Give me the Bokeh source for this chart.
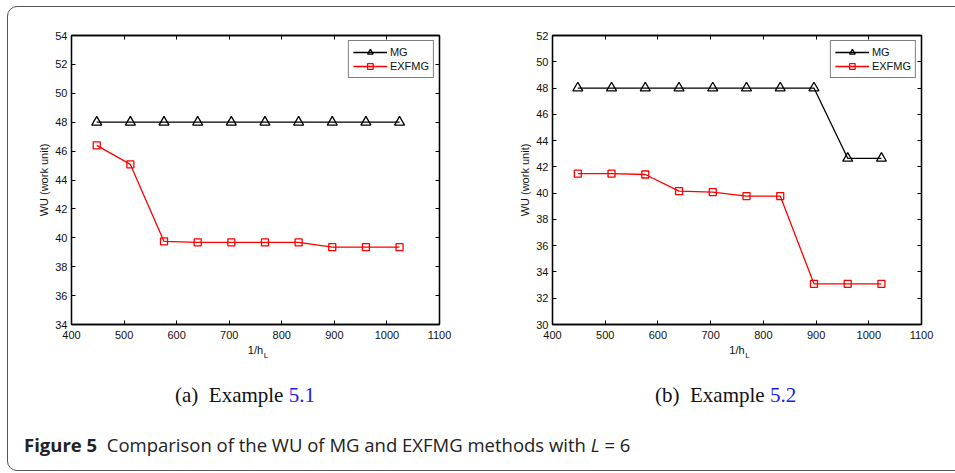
from bokeh.plotting import figure
from bokeh.models import (Range1d, FixedTicker, LinearAxis, Legend, LegendItem, Div)
from bokeh.layouts import row, column
from bokeh.embed import file_html
from bokeh.resources import INLINE

# ---------------- data ----------------
inv_h = [448, 512, 576, 640, 704, 768, 832, 896, 960, 1024]

mg_a = [48, 48, 48, 48, 48, 48, 48, 48, 48, 48]
exfmg_a = [46.4, 45.08, 39.75, 39.68, 39.68, 39.68, 39.68, 39.35, 39.35, 39.35]

mg_b = [48, 48, 48, 48, 48, 48, 48, 48, 42.65, 42.65]
exfmg_b = [41.48, 41.48, 41.42, 40.15, 40.08, 39.78, 39.78, 33.1, 33.1, 33.1]

x_ticks = [400, 500, 600, 700, 800, 900, 1000, 1100]
y_ticks_a = [34, 36, 38, 40, 42, 44, 46, 48, 50, 52, 54]
y_ticks_b = [30, 32, 34, 36, 38, 40, 42, 44, 46, 48, 50, 52]

series_names = ["MG", "EXFMG"]
x_label_main = "1/h"
x_label_sub = "L"
x_label_sub_at = 770
y_label = "WU (work unit)"
caption_a = ("(a)", "Example", "5.1")
caption_b = ("(b)", "Example", "5.2")
fig_caption = ("Figure 5", "Comparison of the WU of MG and EXFMG methods with", "L", "= 6")

TICK_FONT = "Liberation Sans"
FIG_H = 370


def make_panel(width, min_left, min_right, mg, ex, yticks):
    p = figure(width=width, height=FIG_H, output_backend="svg", toolbar_location=None,
               x_range=Range1d(400, 1100), y_range=Range1d(yticks[0], yticks[-1]),
               min_border_left=min_left, min_border_right=min_right,
               min_border_top=35, min_border_bottom=FIG_H - 324,
               x_axis_location=None, y_axis_location=None)
    p.grid.visible = False
    p.outline_line_color = "black"
    p.outline_line_width = 1.3
    p.background_fill_color = "white"
    p.border_fill_color = "white"

    for side in ["below", "left", "above", "right"]:
        ticks = x_ticks if side in ("below", "above") else yticks
        ax = LinearAxis()
        ax.ticker = FixedTicker(ticks=ticks)
        ax.major_tick_in = 4
        ax.major_tick_out = 0
        ax.minor_tick_line_color = None
        ax.axis_line_color = "black"
        ax.axis_line_width = 1.3
        ax.major_tick_line_color = "black"
        ax.major_tick_line_width = 1
        ax.major_label_text_font = TICK_FONT
        ax.major_label_text_font_size = "11px"
        ax.major_label_text_color = "#111111"
        ax.axis_label_text_font = TICK_FONT
        ax.axis_label_text_font_size = "11px"
        ax.axis_label_text_font_style = "normal"
        ax.axis_label_text_color = "#111111"
        if side in ("above", "right"):
            ax.major_label_overrides = {t: "" for t in ticks}
            ax.major_label_standoff = 0
        elif side == "below":
            ax.major_label_standoff = 6
            ax.axis_label = x_label_main
            ax.axis_label_standoff = 2
        else:
            ax.major_label_standoff = 4
            ax.axis_label = y_label
            ax.axis_label_standoff = 2
        p.add_layout(ax, side)

    # subscript "L" of the x-axis label, as a second (tick-less) axis below
    sub = LinearAxis(ticker=FixedTicker(ticks=[x_label_sub_at]),
                     major_label_overrides={x_label_sub_at: x_label_sub})
    sub.axis_line_color = None
    sub.major_tick_line_color = None
    sub.minor_tick_line_color = None
    sub.major_tick_in = 0
    sub.major_tick_out = 0
    sub.major_label_standoff = -8
    sub.major_label_text_font = TICK_FONT
    sub.major_label_text_font_size = "8px"
    sub.major_label_text_color = "#111111"
    p.add_layout(sub, "below")

    l1 = p.line(inv_h, mg, line_color="black", line_width=1.3)
    s1 = p.scatter(inv_h, mg, marker="triangle", size=10, line_color="black",
                   line_width=1.3, fill_alpha=0)
    l2 = p.line(inv_h, ex, line_color="#ff0000", line_width=1.3)
    s2 = p.scatter(inv_h, ex, marker="square", size=7, line_color="#ff0000",
                   line_width=1.3, fill_alpha=0)

    legend = Legend(items=[LegendItem(label=series_names[0], renderers=[l1, s1]),
                           LegendItem(label=series_names[1], renderers=[l2, s2])],
                    location="top_right", margin=5, padding=4, spacing=0,
                    glyph_width=34, glyph_height=14, label_height=14, label_standoff=3,
                    label_text_font=TICK_FONT, label_text_font_size="11px",
                    label_text_color="#111111",
                    border_line_color="black", border_line_width=1,
                    background_fill_alpha=1)
    p.add_layout(legend, "center")
    return p


def sub_caption(parts, width):
    a, ex, num = parts
    html = ('<div style="padding-left:175px; padding-top:13px; font-family:\'Liberation Serif\', serif;'
            ' font-size:21px; line-height:24px; color:#111; white-space:nowrap;">'
            f'{a}&nbsp; {ex} <span style="color:#1a1aee">{num}</span></div>')
    return Div(text=html, width=width, height=45, margin=0)


p1 = make_panel(480, 71, 41, mg_a, exfmg_a, y_ticks_a)
p2 = make_panel(474, 72, 33, mg_b, exfmg_b, y_ticks_b)

cap_a = sub_caption(caption_a, 480)
cap_b = sub_caption(caption_b, 474)

fb, ftxt, fl, feq = fig_caption
fig_html = (
    '<div style="position:fixed; left:7px; top:6px; width:1000px; height:465px;'
    ' border:1.5px solid #555; border-radius:10px; pointer-events:none;"></div>'
    '<div style="padding-left:24px; padding-top:17px; font-family:\'Open Sans\', sans-serif;'
    ' font-size:18.5px; line-height:25px; color:#222; white-space:nowrap;">'
    f'<b>{fb}</b>&nbsp; {ftxt} <i>{fl}</i> {feq}</div>'
)
cap_fig = Div(text=fig_html, width=954, height=55, margin=0)

layout = column(row(p1, p2, spacing=0), row(cap_a, cap_b, spacing=0), cap_fig, spacing=0)
open("out.html", "w").write(file_html(layout, INLINE))
